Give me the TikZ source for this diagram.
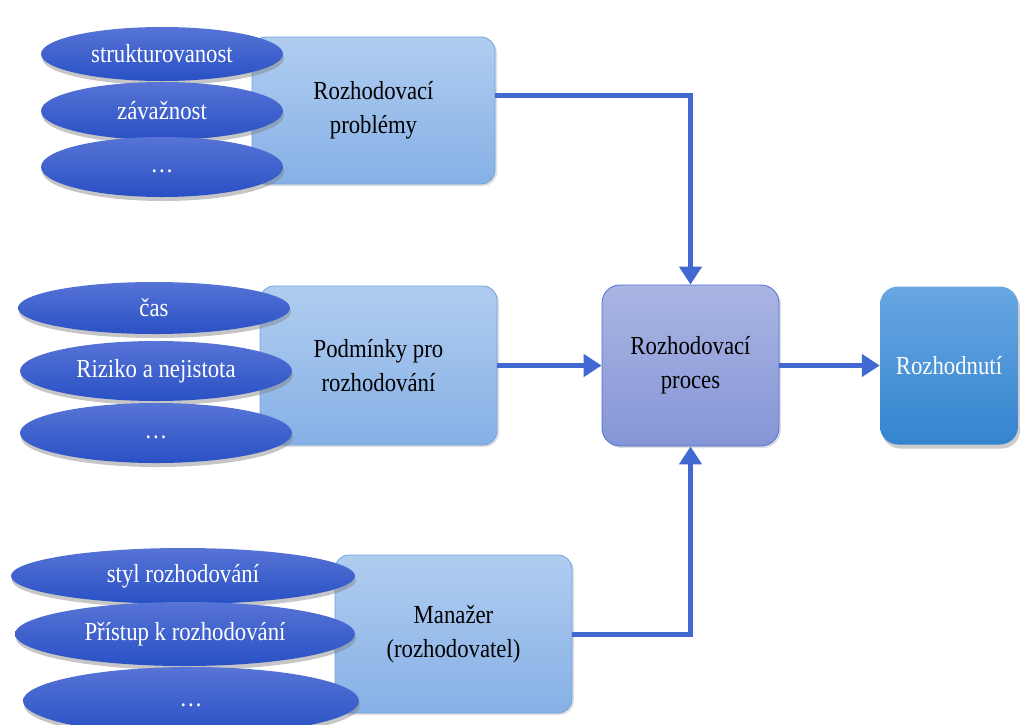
\documentclass[tikz,border=0pt]{standalone}
\usepackage{fontspec}
\setmainfont{Liberation Serif}[FakeStretch=0.875]
\usetikzlibrary{shapes.geometric,shadows,arrows.meta}
\definecolor{boxtop}{HTML}{B0CDF0}
\definecolor{boxbot}{HTML}{86B0E6}
\definecolor{boxline}{HTML}{6FA3DD}
\definecolor{elltop}{HTML}{5774D6}
\definecolor{ellbot}{HTML}{2950C4}
\definecolor{proctop}{HTML}{AAB5E3}
\definecolor{procbot}{HTML}{8596D7}
\definecolor{procline}{HTML}{4A6ED4}
\definecolor{restop}{HTML}{68A7E2}
\definecolor{resbot}{HTML}{3384CF}
\definecolor{arr}{HTML}{4169D1}
\newcommand{\elldots}{\vphantom{Ap}\dots}
\begin{document}
\begin{tikzpicture}[x=1pt,y=-1pt,
  font=\fontsize{26}{34}\selectfont,
  box/.style={rectangle, rounded corners=14pt, top color=boxtop, bottom color=boxbot,
    draw=boxline, line width=0.8pt, align=center, inner sep=0pt,
    drop shadow={opacity=0.25, shadow xshift=2pt, shadow yshift=-2pt}},
  ell/.style={ellipse, top color=elltop, bottom color=ellbot, draw=none,
    text=white, inner sep=0pt,
    drop shadow={opacity=0.45, shadow xshift=1pt, shadow yshift=-4pt}},
  proc/.style={rectangle, rounded corners=18pt, top color=proctop, bottom color=procbot,
    draw=procline, line width=0.8pt, align=center, inner sep=0pt,
    drop shadow={opacity=0.25, shadow xshift=2pt, shadow yshift=-2pt}},
  res/.style={rectangle, rounded corners=18pt, top color=restop, bottom color=resbot,
    draw=none, text=white, align=center, inner sep=0pt,
    drop shadow={opacity=0.4, shadow xshift=2pt, shadow yshift=-4pt}},
  conn/.style={draw=arr, line width=5pt, -{Triangle[length=18pt,width=22pt]}}]
\useasboundingbox (0,0) rectangle (1020,724);

% boxes
\node[box, minimum width=243pt, minimum height=147pt] (b1) at (373.5,110.5) {Rozhodovací\\problémy};
\node[box, minimum width=237pt, minimum height=159pt] (b2) at (378.5,365.5) {Podmínky pro\\rozhodování};
\node[box, minimum width=237pt, minimum height=158pt] (b3) at (453.5,634) {Manažer\\(rozhodovatel)};
\node[proc, minimum width=177pt, minimum height=161pt] (proc) at (690.5,365.5) {Rozhodovací\\proces};
\node[res, minimum width=138pt, minimum height=158pt] (res) at (949,365.5) {Rozhodnutí};

% ellipses group 1
\node[ell, minimum width=242pt, minimum height=54pt] (e11) at (162,54) {strukturovanost};
\node[ell, minimum width=242pt, minimum height=58pt] (e12) at (162,111) {závažnost};
\node[ell, minimum width=242pt, minimum height=60pt] (e13) at (162,167) {\elldots};

% ellipses group 2
\node[ell, minimum width=272pt, minimum height=52pt] (e21) at (154,308) {čas};
\node[ell, minimum width=272pt, minimum height=60pt] (e22) at (156,371) {Riziko a nejistota};
\node[ell, minimum width=272pt, minimum height=60pt] (e23) at (156,433) {\elldots};

% ellipses group 3
\node[ell, minimum width=344pt, minimum height=56pt] (e31) at (183,576) {styl rozhodování};
\node[ell, minimum width=340pt, minimum height=64pt] (e32) at (185,634) {Přístup k rozhodování};
\node[ell, minimum width=336pt, minimum height=68pt] (e33) at (191,701) {\elldots};

% connectors
\draw[conn] ([yshift=15pt]b1.east) -| (proc.north);
\draw[conn] (b2.east) -- (proc.west);
\draw[conn] (b3.east) -| (proc.south);
\draw[conn] (proc.east) -- (res.west);
\end{tikzpicture}
\end{document}
